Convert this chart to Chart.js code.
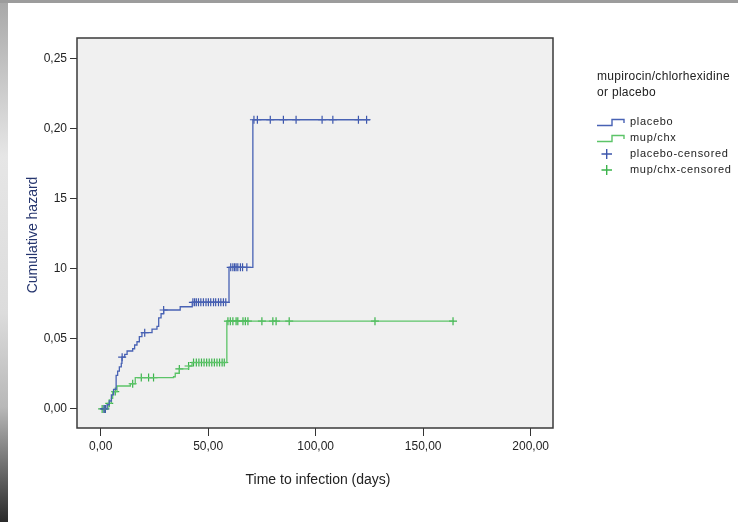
<!DOCTYPE html>
<html>
<head>
<meta charset="utf-8">
<script src="https://cdn.jsdelivr.net/npm/chart.js@4/dist/chart.umd.min.js"></script>
<style>
  html, body { margin: 0; padding: 0; background: #fff; }
  canvas { display: block; }
</style>
</head>
<body>
<canvas id="hazard-chart" width="738" height="522"></canvas>
<script>
// step data (days, cumulative hazard)
var placeboTimes  = [1, 3.0, 4.0, 5.0, 6.0, 7.2, 7.9, 8.7, 9.6, 9.9, 11.2, 12.3, 14.9, 15.8, 16.9, 18.0, 19.2, 23.9, 26.2, 27.0, 28.1, 29.3, 37.0, 42.6, 59.7, 70.8, 125.3];
var placeboHazard = [0, 0.003, 0.0057, 0.010, 0.014, 0.024, 0.027, 0.030, 0.0326, 0.037, 0.039, 0.0414, 0.043, 0.0457, 0.048, 0.0517, 0.0545, 0.057, 0.059, 0.065, 0.068, 0.0707, 0.073, 0.0762, 0.1012, 0.2066, 0.2066];
var placeboCensored = [1.5, 2.2, 10.0, 20.5, 29.3, 42.9, 43.7, 44.5, 45.5, 46.6, 47.8, 49.0, 50.1, 51.2, 52.5, 53.5, 54.8, 55.9, 57.1, 58.2,
                       60.5, 61.5, 62.3, 63.0, 63.8, 65.0, 66.0, 68.0, 71.3, 72.9, 78.9, 85.0, 90.9, 103.0, 108.0, 119.9, 123.7];

var mupTimes  = [1, 3.4, 5.0, 5.6, 7.6, 13.8, 16.1, 33.9, 34.7, 36.6, 40.9, 42.5, 58.7, 163.9];
var mupHazard = [0, 0.004, 0.0076, 0.0124, 0.0164, 0.018, 0.0224, 0.023, 0.0255, 0.0286, 0.0307, 0.0332, 0.0627, 0.0627];
var mupCensored = [0.7, 1.9, 4.0, 6.8, 14.9, 18.9, 22.3, 24.6, 36.6, 40.9, 43.2, 44.5, 45.7, 46.9, 48.1, 49.3, 50.5, 51.7, 52.9, 54.1, 55.3, 56.5, 57.5,
                   59.2, 60.3, 61.5, 63.0, 63.8, 66.2, 67.3, 68.5, 75.0, 80.1, 81.6, 87.7, 127.6, 163.9];

var xTickValues = [0, 50, 100, 150, 200];
var xTickLabels = ['0,00', '50,00', '100,00', '150,00', '200,00'];
var yTickValues = [0, 0.05, 0.10, 0.15, 0.20, 0.25];
var yTickLabels = ['0,00', '0,05', '10', '15', '0,20', '0,25'];

var seriesNames = ['placebo', 'mup/chx', 'placebo-censored', 'mup/chx-censored'];
var legendTitle = ['mupirocin/chlorhexidine', 'or placebo'];

var blue = '#4862b4';
var green = '#5cc468';
var blueMark = '#3c56ac';
var greenMark = '#3cb44c';
var font = 'Arial, "Liberation Sans", sans-serif';

// level of the step curve at time t
function levelAt(times, hazard, t) {
    var v = hazard[0];
    for (var i = 0; i < times.length; i++) {
        if (times[i] <= t) v = hazard[i];
    }
    return v;
}

function steps(times, hazard) {
    return times.map(function(t, i) { return { x: t, y: hazard[i] }; });
}

function marks(cens, times, hazard) {
    return cens.map(function(t) { return { x: t, y: levelAt(times, hazard, t) }; });
}

var frame = {
    id: 'frame',
    beforeDraw: function(chart) {
        var ctx = chart.ctx, a = chart.chartArea;
        ctx.save();
        ctx.fillStyle = '#fff';
        ctx.fillRect(0, 0, chart.width, chart.height);
        // grey slide edges
        var g = ctx.createLinearGradient(0, 0, 0, chart.height);
        g.addColorStop(0, '#a8a8a8');
        g.addColorStop(0.3, '#e6e6e6');
        g.addColorStop(0.6, '#dcdcdc');
        g.addColorStop(0.78, '#b8b8b8');
        g.addColorStop(1, '#2a2a2a');
        ctx.fillStyle = g;
        ctx.fillRect(0, 0, 8, chart.height);
        ctx.fillStyle = '#9c9c9c';
        ctx.fillRect(0, 0, chart.width, 3);
        // plot area
        ctx.fillStyle = '#f0f0f0';
        ctx.fillRect(a.left, a.top, a.right - a.left, a.bottom - a.top);
        ctx.restore();
    },
    afterDraw: function(chart) {
        var ctx = chart.ctx, a = chart.chartArea;
        ctx.save();
        ctx.strokeStyle = '#3a3a3a';
        ctx.lineWidth = 1.5;
        ctx.strokeRect(a.left, a.top, a.right - a.left, a.bottom - a.top);

        // axis titles
        ctx.fillStyle = '#222';
        ctx.font = '14px ' + font;
        ctx.textAlign = 'center';
        ctx.textBaseline = 'middle';
        ctx.fillText('Time to infection (days)', 318, 480);
        ctx.save();
        ctx.translate(33, 235);
        ctx.rotate(-Math.PI / 2);
        ctx.fillStyle = '#25356e';
        ctx.fillText('Cumulative hazard', 0, 0);
        ctx.restore();

        // legend
        ctx.textAlign = 'left';
        ctx.fillStyle = '#222';
        ctx.font = '12px ' + font;
        ctx.letterSpacing = '0.3px';
        ctx.fillText(legendTitle[0], 597, 77);
        ctx.fillText(legendTitle[1], 597, 93);
        ctx.font = '11px ' + font;
        ctx.letterSpacing = '0.7px';
        var rows = [122, 138, 154, 170];
        var cols = [blue, green, blueMark, greenMark];
        rows.forEach(function(y, i) {
            ctx.strokeStyle = cols[i];
            ctx.lineWidth = 1.4;
            ctx.beginPath();
            if (i < 2) {
                ctx.moveTo(597, y + 3.5);
                ctx.lineTo(612, y + 3.5);
                ctx.lineTo(612, y - 2.5);
                ctx.lineTo(624, y - 2.5);
                ctx.lineTo(624, y + 1);
            } else {
                ctx.moveTo(601.5, y);
                ctx.lineTo(612, y);
                ctx.moveTo(606.7, y - 5);
                ctx.lineTo(606.7, y + 5);
            }
            ctx.stroke();
            ctx.fillText(seriesNames[i], 630, y);
        });
        ctx.restore();
    }
};

var ctx = document.getElementById('hazard-chart').getContext('2d');

var chart = new Chart(ctx, {
    type: 'line',
    data: {
        datasets: [{
            label: seriesNames[0],
            data: steps(placeboTimes, placeboHazard),
            borderColor: blue,
            borderWidth: 1.3,
            stepped: 'before',
            pointRadius: 0,
            fill: false
        }, {
            label: seriesNames[1],
            data: steps(mupTimes, mupHazard),
            borderColor: green,
            borderWidth: 1.3,
            stepped: 'before',
            pointRadius: 0,
            fill: false
        }, {
            label: seriesNames[2],
            data: marks(placeboCensored, placeboTimes, placeboHazard),
            showLine: false,
            pointStyle: 'cross',
            pointRadius: 4,
            pointBorderWidth: 1.2,
            borderColor: blueMark,
            backgroundColor: blueMark
        }, {
            label: seriesNames[3],
            data: marks(mupCensored, mupTimes, mupHazard),
            showLine: false,
            pointStyle: 'cross',
            pointRadius: 4,
            pointBorderWidth: 1.2,
            borderColor: greenMark,
            backgroundColor: greenMark
        }]
    },
    options: {
        responsive: false,
        animation: false,
        events: [],
        layout: { padding: { top: 38, right: 185, left: 0, bottom: 0 } },
        plugins: {
            legend: { display: false },
            tooltip: { enabled: false }
        },
        scales: {
            x: {
                type: 'linear',
                min: -11,
                max: 210.4,
                afterBuildTicks: function(scale) {
                    scale.ticks = xTickValues.map(function(v) { return { value: v }; });
                },
                afterFit: function(scale) { scale.height = 94; },
                ticks: {
                    autoSkip: false,
                    maxRotation: 0,
                    padding: 3,
                    color: '#222',
                    font: { family: font, size: 12 },
                    callback: function(v) { return xTickLabels[xTickValues.indexOf(v)]; }
                },
                grid: { drawOnChartArea: false, drawTicks: true, tickLength: 8, color: '#333' },
                border: { display: false }
            },
            y: {
                type: 'linear',
                min: -0.0136,
                max: 0.265,
                afterBuildTicks: function(scale) {
                    scale.ticks = yTickValues.map(function(v) { return { value: v }; });
                },
                afterFit: function(scale) { scale.width = 77; },
                ticks: {
                    autoSkip: false,
                    padding: 3,
                    color: '#222',
                    font: { family: font, size: 12 },
                    callback: function(v) {
                        for (var i = 0; i < yTickValues.length; i++) {
                            if (Math.abs(yTickValues[i] - v) < 1e-9) return yTickLabels[i];
                        }
                        return '';
                    }
                },
                grid: { drawOnChartArea: false, drawTicks: true, tickLength: 7, color: '#333' },
                border: { display: false }
            }
        }
    },
    plugins: [frame]
});
</script>
</body>
</html>
